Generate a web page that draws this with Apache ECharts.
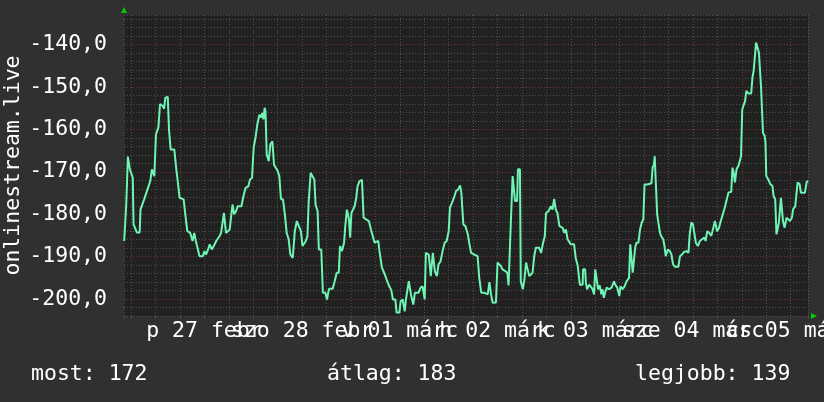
<!DOCTYPE html>
<html><head><meta charset="utf-8">
<script src="https://cdn.jsdelivr.net/npm/echarts@6/dist/echarts.min.js"></script>
<style>html,body{margin:0;padding:0;background:#303030;}#c{width:824px;height:402px;}</style>
</head><body><div id="c"></div>
<script>
// hours relative to 2015-02-27 00:00
const hours = [
-7.7,-7.2,-6.8,-6.3,-5.6,-5.4,-4.6,-3.9,-3.7,-2.8,-2.0,-1.3,-0.9,-0.3,0.1,0.7,1.1,1.7,2.1,2.4,3.0,3.3,3.7,4.6,5.1,5.4,5.9,6.9,7.3,7.8,8.5,9.1,9.5,9.9,10.4,10.8,11.6,12.0,12.4,12.9,13.3,13.8,14.3,14.9,15.7,16.1,16.8,17.3,18.2,18.6,18.9,19.3,19.8,20.2,
21.1,21.5,22.1,22.8,23.2,23.7,24.1,24.6,25.0,25.5,25.9,26.2,26.5,26.8,27.0,27.3,27.8,28.2,28.7,29.1,29.5,30.0,30.4,30.8,31.3,31.8,32.2,32.7,33.1,33.7,34.2,34.7,35.2,35.7,36.1,36.5,36.9,37.3,37.6,38.1,38.5,39.0,39.3,39.8,40.1,40.7,41.1,41.7,42.1,42.6,43.5,44.0,44.5,45.0,45.3,45.8,46.3,46.6,47.0,47.5,47.8,48.1,
48.9,49.3,49.6,50.1,50.7,51.1,51.7,52.4,52.9,53.3,53.8,54.2,54.7,55.0,55.3,55.6,56.3,56.9,57.4,57.9,58.3,58.9,59.2,59.9,60.2,60.7,61.2,61.5,61.9,62.2,62.5,62.8,63.3,63.7,64.1,64.6,65.1,65.6,66.1,66.4,67.1,67.6,68.1,68.6,69.1,69.5,70.0,70.5,71.0,71.5,72.0,72.3,72.8,73.3,73.8,74.3,74.8,75.1,75.6,76.1,
76.7,77.1,77.5,78.3,79.1,79.5,80.0,80.7,81.6,82.0,82.4,82.8,83.6,84.0,84.4,84.8,85.2,85.9,86.4,86.7,87.0,87.2,87.5,87.7,88.1,88.3,88.8,89.0,89.5,89.7,90.2,90.6,91.0,91.4,91.8,92.2,92.6,93.0,93.4,94.2,94.7,95.1,95.6,95.9,96.5,97.1,97.5,97.9,98.3,98.7,99.2,100.0,100.4,100.8,101.2,101.6,102.0,102.4,102.8,103.2,103.7,
104.2,104.9,105.0,105.5,105.7,106.0,106.5,106.9,107.3,107.7,108.0,108.3,108.7,109.1,109.5,109.8,110.1,110.4,110.8,111.4,112.0,112.6,112.9,113.4,113.9,114.2,114.7,115.2,115.7,116.3,116.6,117.0,117.2,117.5,117.8,118.1,118.6,119.0,119.4,119.8,120.1,120.8,121.2,121.8,122.1,122.4,122.6,123.0,123.2,123.5,123.9,124.2,124.7,125.0,125.3,125.8,126.3,126.7,127.1,127.6,128.4,128.8,129.3,129.8,130.4,130.9,131.2,131.6,132.0,
132.7,133.2,133.7,134.2,134.8,135.1,135.5,136.0,136.5,136.9,137.4,137.9,138.4,138.7,139.2,139.7,140.2,140.7,141.4,141.7,142.0,142.3,142.7,143.2,143.5,143.8,144.1,144.5,144.8,145.1,145.6,146.3,146.6,146.9,147.3,147.5,147.9,148.2,148.5,148.7,149.1,149.2,149.6,149.8,150.0,150.5,151.0,151.5,151.8,152.2,152.5,152.8,153.1,153.3,153.6,153.8,154.1,154.5,155.0,155.3,155.8,156.3,156.6,157.1,157.4,157.7,158.2,158.5,159.5,159.9,160.25
];
const values = [
-186.3,-177.7,-166.4,-169.4,-171.4,-182.4,-184.3,-184.3,-178.9,-176.5,-174.2,-172.2,-169.4,-171.0,-161.2,-159.5,-154.0,-154.4,-155.1,-152.5,-152.3,-160.0,-164.7,-164.7,-169.4,-171.8,-176.1,-176.5,-180.0,-184.0,-184.4,-186.3,-184.4,-186.3,-188.3,-189.9,-189.9,-188.7,-189.5,-188.3,-187.1,-188.3,-187.5,-186.3,-185.2,-184.4,-179.7,-184.4,-183.6,-183.6,-177.7,-180.0,-179.2,-178.1,
-178.1,-176.1,-173.8,-173.4,-171.8,-171.4,-164.3,-161.6,-158.8,-156.5,-157.2,-156.1,-157.6,-154.9,-155.7,-165.9,-167.5,-163.5,-162.8,-168.3,-168.6,-169.8,-171.0,-176.4,-176.5,-180.4,-184.4,-185.9,-189.5,-190.3,-184.0,-181.6,-182.8,-184.0,-187.5,-187.1,-186.3,-185.2,-177.3,-170.2,-171.0,-171.8,-177.7,-179.3,-188.3,-188.3,-198.5,-198.5,-200.1,-197.6,-197.6,-195.8,-193.8,-193.8,-187.5,-188.7,-186.7,-182.8,-178.9,-181.2,-185.5,-179.7,
-178.1,-176.1,-173.4,-172.2,-171.9,-180.8,-181.2,-181.6,-183.6,-184.0,-186.7,-187.1,-186.3,-188.7,-190.7,-192.6,-194.2,-195.8,-197.0,-197.9,-200.1,-200.1,-203.2,-203.2,-200.5,-200.1,-202.9,-200.1,-200.1,-195.8,-196.2,-199.3,-201.3,-198.5,-198.1,-198.5,-197.3,-197.0,-200.1,-189.1,-189.5,-194.6,-189.1,-193.4,-194.6,-191.8,-191.1,-188.7,-186.7,-186.3,-184.0,-178.5,-177.3,-176.1,-174.5,-174.2,-173.2,-174.9,-182.4,-182.8,
-184.7,-187.1,-189.1,-189.5,-189.9,-195.0,-198.5,-198.5,-198.9,-196.0,-198.9,-200.9,-200.8,-191.4,-191.3,-192.2,-193.0,-193.4,-193.8,-196.8,-196.8,-183.6,-183.2,-171.0,-171.0,-176.9,-176.9,-169.4,-169.4,-195.8,-197.7,-195.4,-191.4,-193.0,-194.6,-194.6,-193.8,-189.9,-187.9,-187.9,-189.1,-187.1,-185.2,-179.7,-179.3,-178.1,-178.9,-176.4,-178.9,-179.7,-182.8,-183.2,-184.4,-183.6,-185.9,-186.3,-187.1,-186.7,-187.1,-190.3,-192.2,
-196.6,-196.6,-193.0,-193.0,-196.2,-197.7,-196.6,-197.0,-197.6,-198.9,-193.0,-195.0,-197.7,-196.8,-198.9,-197.7,-199.7,-198.5,-197.3,-197.7,-197.3,-195.8,-196.6,-197.3,-199.3,-197.0,-197.7,-197.0,-195.8,-195.0,-187.1,-187.5,-193.8,-194.2,-187.9,-186.7,-186.7,-183.6,-182.0,-181.2,-173.0,-173.0,-172.7,-172.7,-168.9,-168.4,-166.3,-166.3,-180.0,-182.0,-184.4,-185.2,-185.9,-187.5,-189.9,-188.3,-188.7,-189.5,-191.8,-192.4,-192.4,-189.9,-189.5,-188.9,-188.7,-189.1,-184.7,-181.9,-182.4,
-186.7,-187.5,-186.3,-185.9,-185.5,-186.3,-184.0,-184.4,-185.1,-184.7,-181.6,-184.0,-183.2,-182.0,-180.4,-178.8,-176.9,-174.9,-174.7,-169.0,-170.2,-172.5,-169.4,-168.5,-168.2,-166.3,-155.3,-154.1,-153.3,-150.9,-151.5,-151.5,-147.8,-146.2,-145.8,-139.5,-139.5,-141.9,-142.3,-149.7,-150.1,-160.8,-161.5,-163.1,-171.0,-171.8,-172.9,-173.3,-175.7,-176.5,-184.7,-184.7,-182.0,-182.0,-176.1,-176.1,-181.6,-183.2,-180.8,-180.4,-181.6,-180.8,-178.8,-178.2,-178.0,-172.5,-172.9,-174.9,-174.9,-172.5,-172.1
];
const dayLabels = ['p 27 febr','szo 28 febr','v 01 márc','h 02 márc','k 03 márc','sze 04 márc','cs 05 márc'];
const yAxisName = 'onlinestream.live';
const legendTexts = ['most: 172','átlag: 183','legjobb: 139'];

const FONT = '"DejaVu Sans Mono", monospace';
const FS = 21.5;
const G = '#505050', R = '#703838';
const data = hours.map((h, i) => [h, values[i]]);

const chart = echarts.init(document.getElementById('c'));
chart.setOption({
  backgroundColor: '#303030',
  animation: false,
  grid: {left: 124, top: 15, width: 684, height: 301, show: true, backgroundColor: '#212121', borderWidth: 0,
         containLabel: false, outerBoundsMode: 'none'},
  xAxis: {
    type: 'value', min: -7.75, max: 160.25, minInterval: 6, maxInterval: 6, splitNumber: 28,
    axisLine: {show: false},
    axisTick: {show: true, length: 3, lineStyle: {color: '#444'}},
    splitLine: {show: true, lineStyle: {color: [G, G, R, G], type: [1, 2], width: 1}},
    axisLabel: {
      color: '#ffffff', fontFamily: FONT, fontSize: FS, margin: 4, hideOverlap: false,
      formatter: function (v) {
        const k = (v - 12) / 24;
        if (Math.abs(k - Math.round(k)) < 1e-6 && k >= 0 && k < dayLabels.length) return dayLabels[Math.round(k)];
        return '';
      }
    }
  },
  yAxis: {
    type: 'value', min: -204, max: -133, interval: 2,
    name: yAxisName, nameLocation: 'middle', nameRotate: 90, nameGap: 100, nameMoveOverlap: false,
    nameTextStyle: {color: '#ffffff', fontFamily: FONT, fontSize: FS},
    axisLine: {show: false}, axisTick: {show: false},
    splitLine: {show: true, lineStyle: {color: [G, G, R, G, G], type: [1, 2], width: 1}},
    axisLabel: {
      color: '#ffffff', fontFamily: FONT, fontSize: FS, margin: 17,
      formatter: function (v) {
        if (Math.abs(v % 10) < 1e-6) return v.toFixed(1).replace('.', ',');
        return '';
      }
    }
  },
  series: [{
    type: 'line', data: data, showSymbol: false, symbol: 'none',
    lineStyle: {color: '#6ef5b4', width: 2}, itemStyle: {color: '#6ef5b4'}
  }],
  graphic: [
    {type: 'polygon', shape: {points: [[121, 13], [127, 13], [124, 7]]}, style: {fill: '#00cc00'}},
    {type: 'polygon', shape: {points: [[811, 313], [811, 319], [817, 316]]}, style: {fill: '#00cc00'}},
    {type: 'text', x: 31, y: 374, style: {text: legendTexts[0], fill: '#ffffff', font: FS + 'px ' + FONT, verticalAlign: 'middle', align: 'left'}},
    {type: 'text', x: 327, y: 374, style: {text: legendTexts[1], fill: '#ffffff', font: FS + 'px ' + FONT, verticalAlign: 'middle', align: 'left'}},
    {type: 'text', x: 635, y: 374, style: {text: legendTexts[2], fill: '#ffffff', font: FS + 'px ' + FONT, verticalAlign: 'middle', align: 'left'}}
  ]
});
</script></body></html>
